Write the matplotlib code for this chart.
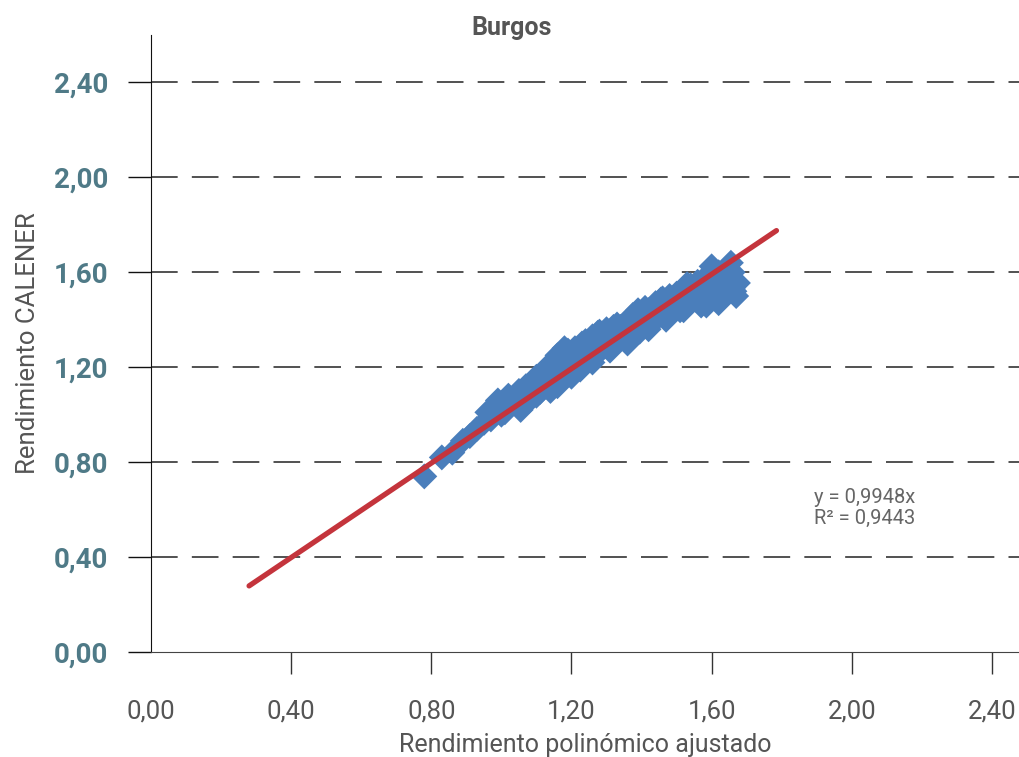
import matplotlib
matplotlib.use("Agg")
import matplotlib.pyplot as plt

# scatter points (Rendimiento polinómico ajustado, Rendimiento CALENER)
pts_x = [0.78, 0.83, 0.86, 0.89, 0.91, 0.93, 0.95, 0.97, 0.96, 1.00,
         1.02, 1.04, 1.01, 1.055, 1.07, 1.09, 1.10, 1.125, 1.14, 1.155,
         1.175, 1.19, 1.21, 1.225, 1.24, 1.255, 1.275, 1.28, 1.30, 1.315,
         1.34, 1.355, 1.375, 1.395, 1.42, 1.43, 1.455, 1.47, 1.50, 1.51,
         1.54, 1.555, 1.58, 1.60, 1.62, 1.595, 1.64, 1.66, 1.675, 1.655,
         1.625, 1.67, 1.57, 1.525, 1.585, 1.20, 1.11, 1.07, 1.14, 1.10,
         1.07, 1.00, 1.05, 1.15, 1.20, 1.25, 1.30, 1.35, 1.40, 1.45,
         1.50, 1.55, 1.60, 1.65,
         0.99, 1.02, 1.09, 1.12, 1.16, 1.19, 1.23, 1.26, 1.32, 1.37,
         1.41, 1.44, 1.48, 1.52, 1.56, 1.62, 1.645, 1.66, 1.60, 1.58,
         1.08, 1.13, 1.17, 1.23, 1.29, 1.33, 1.38, 1.44, 1.49, 1.53,
         1.26, 1.31, 1.36, 1.20, 1.16, 1.42, 1.47, 1.52, 1.57, 1.62,
         1.665, 1.05, 1.13, 1.18, 1.28, 1.33, 1.39, 1.46, 1.53]
pts_y = [0.74, 0.82, 0.84, 0.89, 0.91, 0.94, 0.965, 0.98, 1.01, 1.03,
         1.05, 1.07, 1.01, 1.02, 1.09, 1.125, 1.08, 1.18, 1.10, 1.155,
         1.265, 1.21, 1.28, 1.19, 1.31, 1.24, 1.345, 1.27, 1.36, 1.295,
         1.37, 1.315, 1.42, 1.35, 1.44, 1.39, 1.485, 1.42, 1.51, 1.44,
         1.545, 1.485, 1.575, 1.625, 1.60, 1.49, 1.525, 1.60, 1.555, 1.64,
         1.57, 1.50, 1.525, 1.475, 1.46, 1.19, 1.095, 1.055, 1.19, 1.16,
         1.12, 1.00, 1.05, 1.15, 1.22, 1.27, 1.31, 1.34, 1.39, 1.44,
         1.48, 1.52, 1.56, 1.58,
         1.06, 1.08, 1.14, 1.17, 1.25, 1.27, 1.30, 1.33, 1.37, 1.40,
         1.45, 1.47, 1.50, 1.53, 1.56, 1.58, 1.56, 1.53, 1.52, 1.50,
         1.06, 1.12, 1.17, 1.23, 1.28, 1.31, 1.34, 1.40, 1.45, 1.47,
         1.22, 1.27, 1.30, 1.16, 1.12, 1.36, 1.40, 1.44, 1.46, 1.47,
         1.52, 1.10, 1.20, 1.28, 1.35, 1.38, 1.44, 1.49, 1.55]

# linear trend through the origin
trend_slope = 0.9948
trend_r2 = 0.9443
trend_x = [0.28, 1.785]

ticks = [0.0, 0.4, 0.8, 1.2, 1.6, 2.0, 2.4]
tick_labels = ["0,00", "0,40", "0,80", "1,20", "1,60", "2,00", "2,40"]

plt.rcParams["font.family"] = ["Roboto", "DejaVu Sans"]

fig = plt.figure(figsize=(10.2, 7.57), dpi=100)
ax = fig.add_axes([0.148, 0.1387, 0.852, 0.8151])

for t in ticks[1:]:
    ax.axhline(t, color="#333333", lw=1.2, ls=(0, (16, 8.5)), zorder=1)

ax.scatter(pts_x, pts_y, marker="D", s=175, color="#4A7EBB", edgecolors="none", zorder=2)
ax.plot(trend_x, [trend_slope * v for v in trend_x], color="#C4343C", lw=3.8,
        solid_capstyle="round", zorder=3)

ax.set_xlim(0, 2.48)
ax.set_ylim(0, 2.60)
ax.set_xticks(ticks)
ax.set_xticklabels(tick_labels)
ax.set_yticks(ticks)
ax.set_yticklabels(tick_labels)
ax.xaxis.get_major_ticks()[0].tick1line.set_visible(False)

for s in ("top", "right"):
    ax.spines[s].set_visible(False)
ax.spines["left"].set_color("#111111")
ax.spines["bottom"].set_color("#444444")

ax.tick_params(axis="x", direction="out", length=16, width=1, color="#333333",
               labelsize=18.5, labelcolor="#555555", pad=18)
ax.tick_params(axis="y", direction="out", length=16.5, width=1, color="#111111",
               labelsize=20, labelcolor="#4F7A87", pad=14)
for lab in ax.get_yticklabels():
    lab.set_fontweight("bold")

ax.set_xlabel("Rendimiento polinómico ajustado", fontsize=18, color="#555555", labelpad=7)
ax.set_ylabel("Rendimiento CALENER", fontsize=18.5, color="#555555", labelpad=10)
fig.text(0.502, 0.963, "Burgos", ha="center", va="center", fontsize=18,
         fontweight="bold", color="#555555")

ax.text(0.848, 0.329, "y = 0,9948x\nR² = 0,9443", transform=fig.transFigure,
        ha="center", va="center", fontsize=14.5, color="#666666", linespacing=1.15)

fig.savefig("out.png", dpi=100)
